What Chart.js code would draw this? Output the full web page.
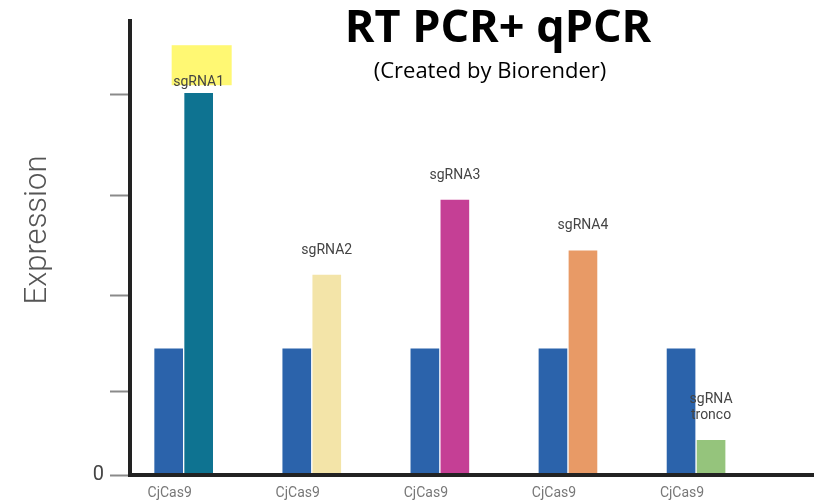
<!DOCTYPE html>
<html lang="en">
<head>
<meta charset="UTF-8">
<title>RT PCR+ qPCR</title>
<script src="https://cdn.jsdelivr.net/npm/chart.js"></script>
<style>
  html, body { margin: 0; padding: 0; background: #fff; }
  #wrap { width: 825px; height: 501px; }
</style>
</head>
<body>
<div id="wrap"><canvas id="pcrChart"></canvas></div>
<script>
// one group per construct, CjCas9 bar + sgRNA bar
const groupLabels = ['CjCas9', 'CjCas9', 'CjCas9', 'CjCas9', 'CjCas9'];
const sgLabels = ['sgRNA1', 'sgRNA2', 'sgRNA3', 'sgRNA4', ['sgRNA', 'tronco']];

// expression, relative to CjCas9
const cas9Values = [1, 1, 1, 1, 1];
const sgValues = [3.01, 1.58, 2.17, 1.77, 0.28];
const sgColors = ['#0e7391', '#f3e4a8', '#c53f95', '#e89a66', '#95c47c'];

// y axis ticks, only zero carries a label
const yTicks = [0, 0.66, 1.41, 2.2, 2.99];
const yTickLabels = ['0', '', '', '', ''];

const toPoints = vals => vals.map((v, i) => ({ x: i, y: v }));

// bar captions, yellow highlight, titles and axis label
const overlay = {
    id: 'overlay',
    afterDatasetsDraw(chart) {
        const ctx = chart.ctx;
        const bars = chart.getDatasetMeta(1).data;
        ctx.save();
        // highlight behind the first caption
        const b0 = bars[0];
        ctx.fillStyle = 'rgba(255, 247, 100, 0.9)';
        ctx.fillRect(b0.x - 27, b0.y - 47, 60, 40);

        ctx.fillStyle = '#444';
        ctx.font = '14px Roboto';
        ctx.textAlign = 'center';
        ctx.textBaseline = 'middle';
        bars.forEach((bar, i) => {
            const lines = [].concat(sgLabels[i]);
            const gap = i === 0 ? 10 : 24;
            lines.forEach((t, k) => {
                ctx.fillText(t, bar.x, bar.y - gap - (lines.length - 1 - k) * 16);
            });
        });
        ctx.restore();
    },
    afterDraw(chart) {
        const ctx = chart.ctx;
        ctx.save();
        ctx.fillStyle = '#000';
        ctx.textAlign = 'center';
        ctx.textBaseline = 'middle';
        ctx.font = 'bold 45px "Open Sans"';
        ctx.fillText('RT PCR+ qPCR', 498, 29);
        ctx.font = '22px "Open Sans"';
        ctx.fillText('(Created by Biorender)', 490, 72);

        ctx.translate(38, 230);
        ctx.rotate(-Math.PI / 2);
        ctx.fillStyle = '#555';
        ctx.font = '300 31px Roboto';
        ctx.fillText('Expression', 0, 0);
        ctx.restore();
    }
};

const ctx = document.getElementById('pcrChart').getContext('2d');

new Chart(ctx, {
    type: 'bar',
    data: {
        datasets: [
            {
                label: 'CjCas9',
                data: toPoints(cas9Values),
                backgroundColor: '#2b63ab',
                borderColor: 'rgba(255,255,255,0.8)',
                borderWidth: 1,
                barThickness: 30
            },
            {
                label: 'sgRNA',
                data: toPoints(sgValues),
                backgroundColor: sgColors,
                borderColor: 'rgba(255,255,255,0.8)',
                borderWidth: 1,
                barThickness: 30
            }
        ]
    },
    options: {
        responsive: true,
        maintainAspectRatio: false,
        animation: false,
        layout: { padding: { top: 21, right: 12, left: 0, bottom: 0 } },
        plugins: {
            legend: { display: false },
            tooltip: { enabled: false },
            title: { display: false }
        },
        scales: {
            x: {
                type: 'linear',
                offset: false,
                min: -0.419,
                max: 4.913,
                afterBuildTicks: s => { s.ticks = groupLabels.map((_, i) => ({ value: i })); },
                afterFit: s => { s.height = 26; },
                grid: { display: false, drawTicks: false, offset: false },
                border: { display: true, color: '#222', width: 4, z: 1 },
                ticks: {
                    callback: (v, i) => groupLabels[i],
                    labelOffset: -14,
                    padding: 10,
                    color: '#777',
                    maxRotation: 0,
                    autoSkip: false,
                    font: { family: 'Roboto', size: 14 }
                }
            },
            y: {
                min: 0,
                max: 3.57,
                afterBuildTicks: s => { s.ticks = yTicks.map(v => ({ value: v })); },
                afterFit: s => { s.width = 130; },
                grid: { drawOnChartArea: false, tickLength: 20, tickColor: '#8a8a8a', tickWidth: 2 },
                border: { color: '#222', width: 4, z: 1 },
                ticks: {
                    callback: (v, i) => yTickLabels[i],
                    color: '#444',
                    padding: 6,
                    font: { family: 'Roboto', size: 20 }
                }
            }
        }
    },
    plugins: [overlay]
});
</script>
</body>
</html>
